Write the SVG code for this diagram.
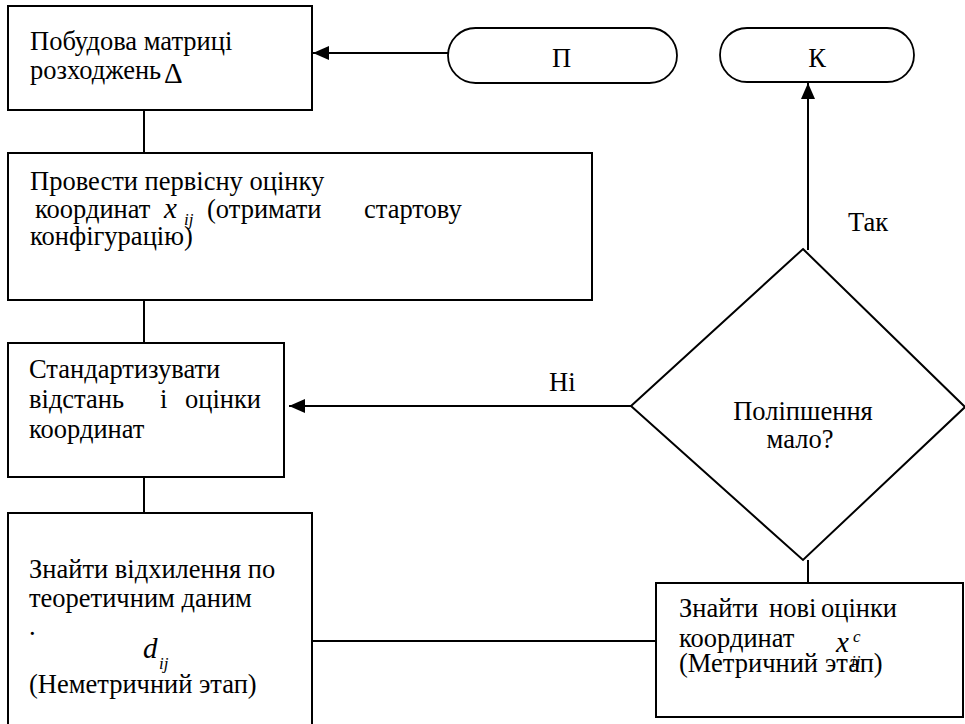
<svg xmlns="http://www.w3.org/2000/svg" width="965" height="724" viewBox="0 0 965 724">
<style>
.box{fill:#fff;stroke:#000;stroke-width:2}
.term{fill:#fff;stroke:#000;stroke-width:1.8}
.ln{fill:none;stroke:#000;stroke-width:2}
</style>
<defs>
<marker id="ah" viewBox="0 0 16 14" refX="16" refY="7" markerWidth="16" markerHeight="14" markerUnits="userSpaceOnUse" orient="auto">
<path d="M0,0 L16,7 L0,14 Z" fill="#000"/>
</marker>
</defs>
<rect width="965" height="724" fill="#fff"/>
<g font-family="Liberation Serif" font-size="26.5" fill="#000">
<g id="connectors">
<line class="ln" x1="448" y1="53" x2="313" y2="53" marker-end="url(#ah)"/>
<line class="ln" x1="144" y1="110" x2="144" y2="153"/>
<line class="ln" x1="144" y1="300" x2="144" y2="343"/>
<line class="ln" x1="144" y1="477" x2="144" y2="513"/>
<line class="ln" x1="312" y1="641" x2="656" y2="641"/>
<line class="ln" x1="808" y1="560" x2="808" y2="583"/>
<line class="ln" x1="631" y1="406" x2="289" y2="406" marker-end="url(#ah)"/>
<line class="ln" x1="808" y1="250" x2="808" y2="83" marker-end="url(#ah)"/>
<text x="549" y="391">Ні</text>
<text x="848" y="231">Так</text>
</g>
<g id="start">
<rect class="term" x="448" y="28" width="229" height="55" rx="27.5"/>
<text x="552" y="67">П</text>
</g>
<g id="end">
<rect class="term" x="720" y="28" width="194" height="54" rx="27"/>
<text x="817" y="67" text-anchor="middle">К</text>
</g>
<g id="n1">
<rect class="box" x="8" y="6" width="304" height="104"/>
<text x="30" y="50">Побудова матриці</text>
<text x="30" y="79">розходжень</text>
<text x="164" y="83" font-size="29">Δ</text>
</g>
<g id="n2">
<rect class="box" x="8" y="153" width="584" height="147"/>
<text x="30" y="190">Провести первісну оцінку</text>
<text x="35" y="218">координат</text>
<text x="164" y="218" font-style="italic" font-size="29">x</text>
<text x="184" y="225" font-style="italic" font-size="17">ij</text>
<text x="207" y="218">(отримати</text>
<text x="364" y="218">стартову</text>
<text x="30" y="245">конфігурацію)</text>
</g>
<g id="n3">
<rect class="box" x="8" y="343" width="276" height="134"/>
<text x="29" y="378">Стандартизувати</text>
<text x="29" y="408">відстань</text>
<text x="160" y="408">і</text>
<text x="185" y="408">оцінки</text>
<text x="29" y="438">координат</text>
</g>
<g id="n4">
<rect class="box" x="8" y="513" width="304" height="220"/>
<text x="29" y="578">Знайти відхилення по</text>
<text x="29" y="607">теоретичним даним</text>
<text x="29" y="635">.</text>
<text x="143" y="658" font-style="italic" font-size="29">d</text>
<text x="159" y="669" font-style="italic" font-size="17">ij</text>
<text x="29" y="693">(Неметричний</text>
<text x="199" y="693">этап)</text>
</g>
<g id="n5">
<rect class="box" x="656" y="583" width="307" height="134"/>
<text x="679" y="617">Знайти</text>
<text x="769" y="617">нові</text>
<text x="821" y="617">оцінки</text>
<text x="679" y="647">координат</text>
<text x="836" y="652" font-style="italic" font-size="29">x</text>
<text x="853" y="642" font-style="italic" font-size="17">c</text>
<text x="851" y="667" font-style="italic" font-size="17">ij</text>
<text x="679" y="672">(Метричний</text>
<text x="825" y="672">этап)</text>
</g>
<g id="decision">
<polygon class="box" points="803,249 965,407 803,560 631,406"/>
<text x="803" y="420" text-anchor="middle">Поліпшення</text>
<text x="800" y="448" text-anchor="middle">мало?</text>
</g>
</g>
</svg>
